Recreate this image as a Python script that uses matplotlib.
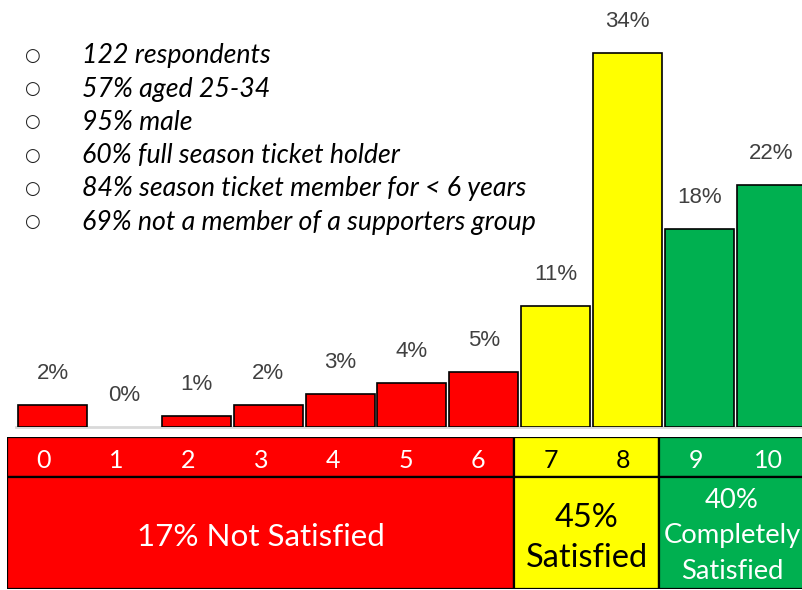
import matplotlib
matplotlib.use("Agg")
import matplotlib.pyplot as plt
from matplotlib.patches import Rectangle

# ---- data ----
scores = [0, 1, 2, 3, 4, 5, 6, 7, 8, 9, 10]
percent = [2, 0, 1, 2, 3, 4, 5, 11, 34, 18, 22]
bar_colors = ["#FF0000"] * 7 + ["#FFFF00"] * 2 + ["#00B050"] * 2
num_text_colors = ["white"] * 7 + ["black"] * 2 + ["white"] * 2
group_labels = ["17% Not Satisfied", "45%\nSatisfied", "40%\nCompletely\nSatisfied"]
group_start = [0, 7, 9]
group_end = [6, 8, 10]
group_colors = ["#FF0000", "#FFFF00", "#00B050"]
group_text_colors = ["white", "black", "white"]
bullets = ["122 respondents", "57% aged 25-34", "95% male",
           "60% full season ticket holder",
           "84% season ticket member for < 6 years",
           "69% not a member of a supporters group"]

W, H = 803, 590
fig = plt.figure(figsize=(W / 100, H / 100), dpi=100)

def fr(x0, y0, x1, y1):
    # pixel box (top-left origin) -> figure fraction rect
    return [x0 / W, 1 - y1 / H, (x1 - x0) / W, (y1 - y0) / H]

# ---- bar axes ----
ax = fig.add_axes(fr(16.5, 0, 803, 427))
lws = [1.2 if v > 0 else 0 for v in percent]
ax.bar(scores, percent, width=0.96, color=bar_colors, edgecolor="black", linewidth=lws, zorder=3)
ax.set_xlim(-0.5, 10.44)
ax.set_ylim(0, 38.8)
for s in ["top", "right", "left"]:
    ax.spines[s].set_visible(False)
ax.spines["bottom"].set_color("#d9d9d9")
ax.spines["bottom"].set_linewidth(2)
ax.set_xticks([])
ax.set_yticks([])
for x, v in zip(scores, percent):
    ax.annotate(f"{v}%", (x, v), xytext=(0, 22.5), textcoords="offset points",
                ha="center", va="center", fontsize=16, color="#404040",
                family="Liberation Sans")

# ---- bullets ----
for i, t in enumerate(bullets):
    y = 56 + i * 33.2
    fig.text(32 / W, 1 - y / H, "○", ha="center", va="center", fontsize=13,
             family=["DejaVu Sans"], color="#222222")
    fig.text(82 / W, 1 - y / H, t, ha="left", va="center", fontsize=19.3,
             style="italic", family=["Lato", "DejaVu Sans"], color="black")

# ---- table axes ----
tx = fig.add_axes(fr(7, 437, 803, 589))
tx.set_xlim(-0.5, 10.48)
tx.set_ylim(0, 152)
tx.axis("off")
for s, e, c in zip(group_start, group_end, group_colors):
    right = e + 0.5 if e < 10 else 11.5
    tx.add_patch(Rectangle((s - 0.5, 112), right - (s - 0.5), 40, facecolor=c,
                           edgecolor="black", linewidth=1.6, clip_on=True))
    tx.add_patch(Rectangle((s - 0.5, 0), right - (s - 0.5), 112, facecolor=c,
                           edgecolor="black", linewidth=1.6, clip_on=True))
for x, tc in zip(scores, num_text_colors):
    tx.text(x, 129, str(x), ha="center", va="center", fontsize=18,
            color=tc, family="Lato")
for s, e, lab, tc in zip(group_start, group_end, group_labels, group_text_colors):
    n = lab.count("\n") + 1
    if n == 1:
        fs, ls, yc = 22.6, 1.2, 52
    elif n == 2:
        fs, ls, yc = 23.4, 1.41, 51
    else:
        fs, ls, yc = 19.7, 1.52, 53
    tx.text((s + e) / 2, yc, lab, ha="center", va="center", fontsize=fs,
            color=tc, family="Lato", linespacing=ls)

fig.savefig("out.png", dpi=100)
